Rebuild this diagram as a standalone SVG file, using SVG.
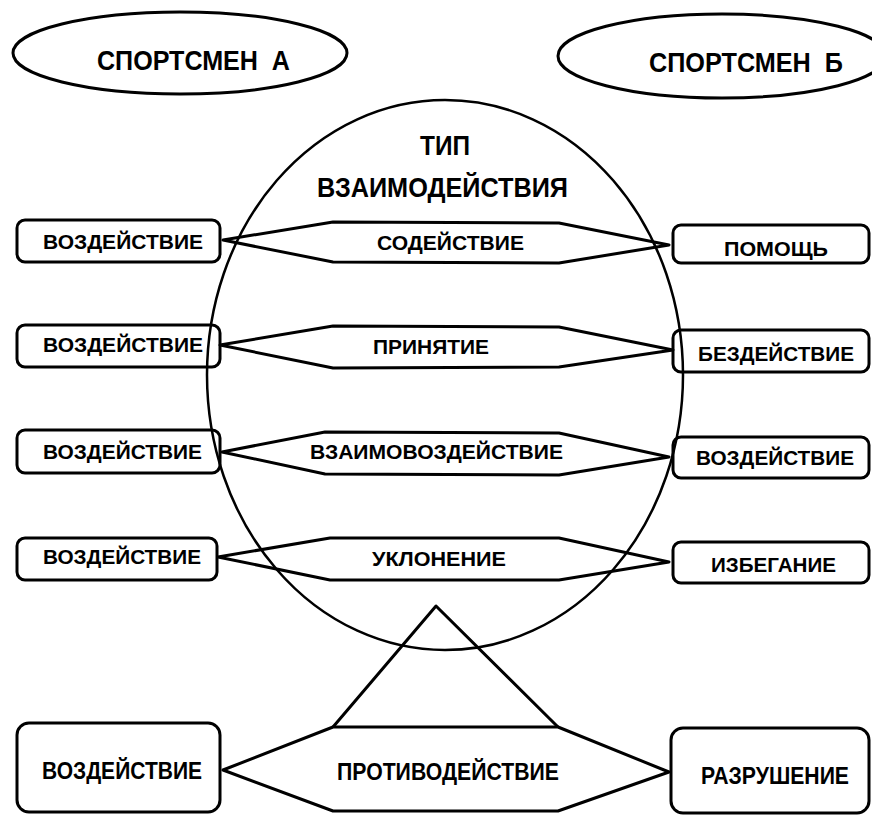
<svg xmlns="http://www.w3.org/2000/svg" width="872" height="816" viewBox="0 0 872 816">
<style>
.ln{fill:none;stroke:#000;stroke-width:3;stroke-linejoin:round}
.thin{fill:none;stroke:#000;stroke-width:2.5}
.t{font-family:"Liberation Sans","Arial",sans-serif;font-weight:bold;fill:#000;text-anchor:start}
.s{font-size:21px}
.m{font-size:23px}
.h{font-size:27px}
</style>
<rect width="872" height="816" fill="#fff"/>
<g id="sportsman-a">
<ellipse class="ln" cx="180" cy="53" rx="167" ry="41"/>
<text class="t h" x="97" y="70" textLength="193" lengthAdjust="spacingAndGlyphs">СПОРТСМЕН&#160; А</text>
</g>
<g id="sportsman-b">
<ellipse class="ln" cx="722" cy="56" rx="164" ry="42"/>
<text class="t h" x="649" y="72" textLength="194" lengthAdjust="spacingAndGlyphs">СПОРТСМЕН&#160; Б</text>
</g>
<g id="interaction-type">
<ellipse class="thin" cx="445" cy="375" rx="238" ry="275"/>
<text class="t h" x="420" y="155" textLength="50" lengthAdjust="spacingAndGlyphs">ТИП</text>
<text class="t h" x="317" y="197" textLength="251" lengthAdjust="spacingAndGlyphs">ВЗАИМОДЕЙСТВИЯ</text>
</g>
<g id="connectors">
<polyline class="ln" points="333,727 436,606 558,727"/>
</g>
<g id="a1"><rect class="ln" x="17" y="220" width="203" height="42" rx="8"/><text class="t s" x="43" y="249" textLength="160" lengthAdjust="spacingAndGlyphs">ВОЗДЕЙСТВИЕ</text></g>
<g id="h1"><polygon class="ln" points="223,240 333,222 559,223 669,245 559,263 333,262"/><text class="t s" x="377" y="250" textLength="147" lengthAdjust="spacingAndGlyphs">СОДЕЙСТВИЕ</text></g>
<g id="b1"><rect class="ln" x="673" y="225" width="196" height="38" rx="8"/><text class="t s" x="724" y="256" textLength="104" lengthAdjust="spacingAndGlyphs">ПОМОЩЬ</text></g>
<g id="a2"><rect class="ln" x="17" y="325" width="203" height="42" rx="8"/><text class="t s" x="43" y="352" textLength="160" lengthAdjust="spacingAndGlyphs">ВОЗДЕЙСТВИЕ</text></g>
<g id="h2"><polygon class="ln" points="220,345 333,326 559,327 673,350 559,367 333,368"/><text class="t s" x="373" y="354" textLength="116" lengthAdjust="spacingAndGlyphs">ПРИНЯТИЕ</text></g>
<g id="b2"><rect class="ln" x="673" y="330" width="196" height="42" rx="8"/><text class="t s" x="698" y="361" textLength="156" lengthAdjust="spacingAndGlyphs">БЕЗДЕЙСТВИЕ</text></g>
<g id="a3"><rect class="ln" x="17" y="430" width="203" height="43" rx="8"/><text class="t s" x="43" y="459" textLength="159" lengthAdjust="spacingAndGlyphs">ВОЗДЕЙСТВИЕ</text></g>
<g id="h3"><polygon class="ln" points="222,452 325,432 559,433 669,457 559,475 325,474"/><text class="t s" x="310" y="459" textLength="253" lengthAdjust="spacingAndGlyphs">ВЗАИМОВОЗДЕЙСТВИЕ</text></g>
<g id="b3"><rect class="ln" x="673" y="437" width="196" height="41" rx="8"/><text class="t s" x="696" y="465" textLength="158" lengthAdjust="spacingAndGlyphs">ВОЗДЕЙСТВИЕ</text></g>
<g id="a4"><rect class="ln" x="17" y="538" width="200" height="42" rx="8"/><text class="t s" x="43" y="564" textLength="158" lengthAdjust="spacingAndGlyphs">ВОЗДЕЙСТВИЕ</text></g>
<g id="h4"><polygon class="ln" points="218,557 330,538 559,538 669,562 559,580 330,580"/><text class="t s" x="372" y="566" textLength="134" lengthAdjust="spacingAndGlyphs">УКЛОНЕНИЕ</text></g>
<g id="b4"><rect class="ln" x="673" y="542" width="196" height="41" rx="8"/><text class="t s" x="711" y="572" textLength="125" lengthAdjust="spacingAndGlyphs">ИЗБЕГАНИЕ</text></g>
<g id="a5"><rect class="ln" x="17" y="723" width="203" height="89" rx="12"/><text class="t m" x="42" y="779" textLength="160" lengthAdjust="spacingAndGlyphs">ВОЗДЕЙСТВИЕ</text></g>
<g id="h5"><polygon class="ln" points="223,770 333,727 558,727 669,772 558,811 333,811"/><text class="t m" x="337" y="780" textLength="222" lengthAdjust="spacingAndGlyphs">ПРОТИВОДЕЙСТВИЕ</text></g>
<g id="b5"><rect class="ln" x="671" y="728" width="198" height="85" rx="12"/><text class="t m" x="701" y="784" textLength="148" lengthAdjust="spacingAndGlyphs">РАЗРУШЕНИЕ</text></g>
</svg>
